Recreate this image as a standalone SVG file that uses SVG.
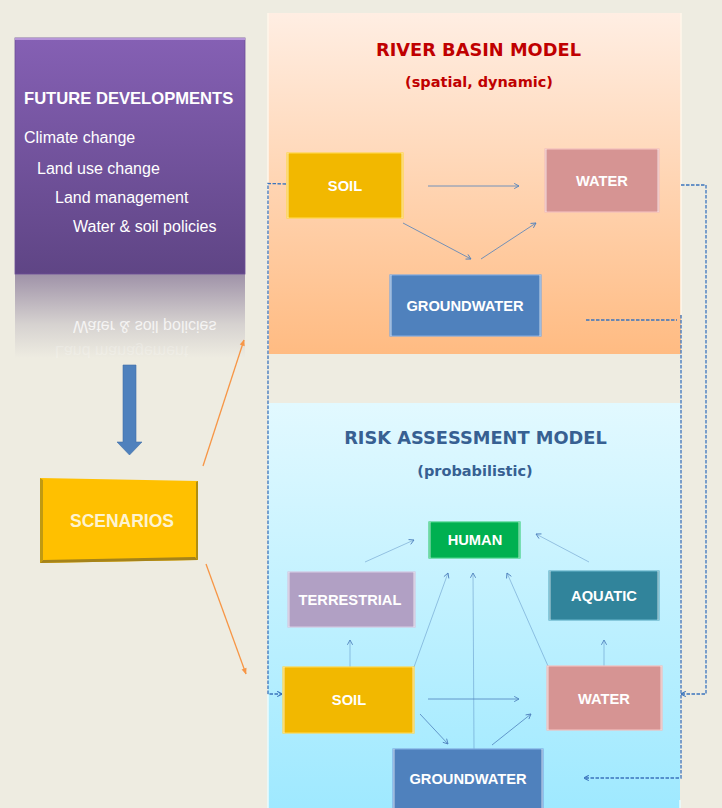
<svg xmlns="http://www.w3.org/2000/svg" width="722" height="808" viewBox="0 0 722 808">
<style>
text{font-family:"Liberation Sans",Arial,sans-serif;}
.b{font-weight:700;fill:#fff;font-size:14.7px;text-anchor:middle;}
.f{fill:#fff;font-size:16px;}
.t{font-family:"DejaVu Sans",sans-serif;font-weight:700;text-anchor:middle;}
.c{fill:none;stroke:#4f81bd;stroke-width:.8;marker-end:url(#a);}
.th{stroke-width:.45;}
.d{fill:none;stroke:#3b74bd;stroke-width:1.3;stroke-dasharray:3.5 1.5;}
.o{fill:none;stroke:#f79646;stroke-width:1.3;marker-end:url(#o);}
.edge{fill:#fff;opacity:.35;}
</style>
<defs>
<linearGradient id="p" x1="0" y1="0" x2="0" y2="1"><stop offset="0" stop-color="#8560b4"/><stop offset="1" stop-color="#5f4585"/></linearGradient>
<linearGradient id="r" x1="0" y1="0" x2="0" y2="1"><stop offset="0" stop-color="#9f92a8"/><stop offset=".6" stop-color="#d6d2d0"/><stop offset="1" stop-color="#eeece1"/></linearGradient>
<linearGradient id="or" x1="0" y1="0" x2="0" y2="1"><stop offset="0" stop-color="#ffeee3"/><stop offset="1" stop-color="#ffbb82"/></linearGradient>
<linearGradient id="bl" x1="0" y1="0" x2="0" y2="1"><stop offset="0" stop-color="#e2f9ff"/><stop offset="1" stop-color="#9fe9ff"/></linearGradient>
<marker id="a" viewBox="0 0 8 8" refX="7.5" refY="4" markerWidth="7" markerHeight="7" markerUnits="userSpaceOnUse" orient="auto"><path d="M2 1L7.5 4L2 7" fill="none" stroke="#4f81bd" stroke-width="1"/></marker>
<marker id="o" viewBox="0 0 8 8" refX="7.5" refY="4" markerWidth="7" markerHeight="7" markerUnits="userSpaceOnUse" orient="auto"><path d="M1 1L8 4L1 7Z" fill="#f79646"/></marker>
<marker id="da" viewBox="0 0 8 8" refX="7.5" refY="4" markerWidth="7" markerHeight="7" markerUnits="userSpaceOnUse" orient="auto"><path d="M2 1L7.5 4L2 7" fill="none" stroke="#3b74bd" stroke-width="1.3"/></marker>
</defs>
<rect width="722" height="808" fill="#eeece1"/>

<g id="river-panel"><rect x="268" y="13" width="413" height="341" fill="url(#or)"/>
<path d="M268 13V354M681 13V315" stroke="#fff6ea" stroke-width="1.5" fill="none"/>
<text class="t" x="478.500" y="56" font-size="17.800" fill="#c00000">RIVER BASIN MODEL</text>
<text class="t" x="479" y="87" font-size="14.500" fill="#c00000">(spatial, dynamic)</text></g>
<g id="risk-panel"><rect x="268" y="403" width="412" height="405" fill="url(#bl)"/>
<path d="M268 695V808M680 800V808" stroke="#e8fcff" stroke-width="1.5" fill="none"/>
<text class="t" x="475.500" y="444" font-size="17.800" fill="#376092">RISK ASSESSMENT MODEL</text>
<text class="t" x="475" y="476" font-size="14.500" fill="#376092">(probabilistic)</text></g>

<g id="future-reflection"><rect x="15" y="274" width="230" height="84" fill="url(#r)"/>
<text class="f" transform="translate(73,321) scale(1,-1)" opacity=".75">Water &amp; soil policies</text>
<text class="f" transform="translate(55,346) scale(1,-1)" opacity=".22">Land management</text></g>
<g id="future"><rect x="15" y="38" width="230" height="236" fill="url(#p)" stroke="#6d4f96" stroke-width=".8"/>
<path d="M15 39H245" stroke="#b696d8" stroke-width="2"/>
<text x="24" y="104" font-size="16.600" font-weight="700" fill="#fff">FUTURE DEVELOPMENTS</text>
<text class="f" x="24" y="143">Climate change</text>
<text class="f" x="37" y="174">Land use change</text>
<text class="f" x="55" y="203">Land management</text>
<text class="f" x="73" y="232">Water &amp; soil policies</text></g>

<g id="down-arrow"><path d="M123 365H136V442H142L129.500 455L117 442H123Z" fill="#4f81bd" stroke="#3f6fa8" stroke-width=".6"/></g>
<g id="scenarios"><path d="M40 478L198 481V560L40 563Z" fill="#ffc000"/>
<path d="M40 478L43 480V560L40 563Z" fill="#c09a12"/><path d="M40 563L43 560L195 557L198 560Z" fill="#a5831a"/><path d="M198 481L196 482V558L198 560Z" fill="#b08e12"/>
<text class="b" x="122" y="527" style="font-size:17.500px;fill:#fdf3d0">SCENARIOS</text></g>

<g id="connectors">
<path class="o" d="M203 466L244 340"/><path class="o" d="M206 564L246 674"/>
<path class="c" d="M428 186H519"/><path class="c" d="M403 223L471 259"/><path class="c" d="M481 259L536 223"/>
<path class="d" d="M286 184L268 183.500V694H282" marker-end="url(#da)"/>
<path class="d" d="M681 185H706V694H681" marker-end="url(#da)"/>
<path class="d" d="M586 320H677"/>
<path class="d" d="M681 315V778H584" marker-end="url(#da)"/>
<path class="c th" d="M365 562L414 540"/><path class="c th" d="M589 562L536 534"/>
<path class="c th" d="M414 667L448 573"/><path class="c th" d="M474 749L473 573"/><path class="c th" d="M548 666L507 573"/>
<path class="c th" d="M350 667V640"/><path class="c th" d="M604 666V640"/>
<path class="c" d="M428 699H519"/><path class="c" d="M420 714L448 744"/><path class="c" d="M492 745L531 714"/>
</g>

<g id="river-soil"><rect x="287" y="153" width="116" height="65" fill="#f2b800" stroke="#ffd64a" stroke-width="1.2"/><rect class="edge" x="287" y="153" width="2" height="65"/><rect class="edge" x="401" y="153" width="2" height="65"/><text class="b" x="345" y="191">SOIL</text></g>
<g id="river-water"><rect x="545" y="149" width="114" height="63" fill="#d69493" stroke="#f2bfbd" stroke-width="1.2"/><rect class="edge" x="545" y="149" width="2" height="63"/><rect class="edge" x="657" y="149" width="2" height="63"/><text class="b" x="602" y="186">WATER</text></g>
<g id="river-groundwater"><rect x="390" y="275" width="151" height="61" fill="#4f81bd" stroke="#7ea9df" stroke-width="1.2"/><rect class="edge" x="390" y="275" width="2" height="61"/><rect class="edge" x="539" y="275" width="2" height="61"/><text class="b" x="465" y="311">GROUNDWATER</text></g>
<g id="human"><rect x="429" y="522" width="91" height="36" fill="#00b050" stroke="#40d080" stroke-width="1.2"/><rect class="edge" x="429" y="522" width="2" height="36"/><rect class="edge" x="518" y="522" width="2" height="36"/><text class="b" x="475" y="545">HUMAN</text></g>
<g id="terrestrial"><rect x="288" y="572" width="127" height="55" fill="#b1a0c4" stroke="#d3c6e2" stroke-width="1.2"/><rect class="edge" x="288" y="572" width="2" height="55"/><rect class="edge" x="413" y="572" width="2" height="55"/><text class="b" x="350" y="605">TERRESTRIAL</text></g>
<g id="aquatic"><rect x="549" y="571" width="110" height="49" fill="#31849b" stroke="#62b0c6" stroke-width="1.2"/><rect class="edge" x="549" y="571" width="2" height="49"/><rect class="edge" x="657" y="571" width="2" height="49"/><text class="b" x="604" y="601">AQUATIC</text></g>
<g id="risk-soil"><rect x="283" y="667" width="131" height="66" fill="#f2b800" stroke="#ffd64a" stroke-width="1.2"/><rect class="edge" x="283" y="667" width="2" height="66"/><rect class="edge" x="412" y="667" width="2" height="66"/><text class="b" x="349" y="705">SOIL</text></g>
<g id="risk-water"><rect x="547" y="666" width="115" height="64" fill="#d69493" stroke="#f2bfbd" stroke-width="1.2"/><rect class="edge" x="547" y="666" width="2" height="64"/><rect class="edge" x="660" y="666" width="2" height="64"/><text class="b" x="604" y="704">WATER</text></g>
<g id="risk-groundwater"><rect x="393" y="749" width="150" height="60" fill="#4f81bd" stroke="#7ea9df" stroke-width="1.2"/><rect class="edge" x="393" y="749" width="2" height="60"/><rect class="edge" x="541" y="749" width="2" height="60"/><text class="b" x="468" y="784">GROUNDWATER</text></g>
</svg>
